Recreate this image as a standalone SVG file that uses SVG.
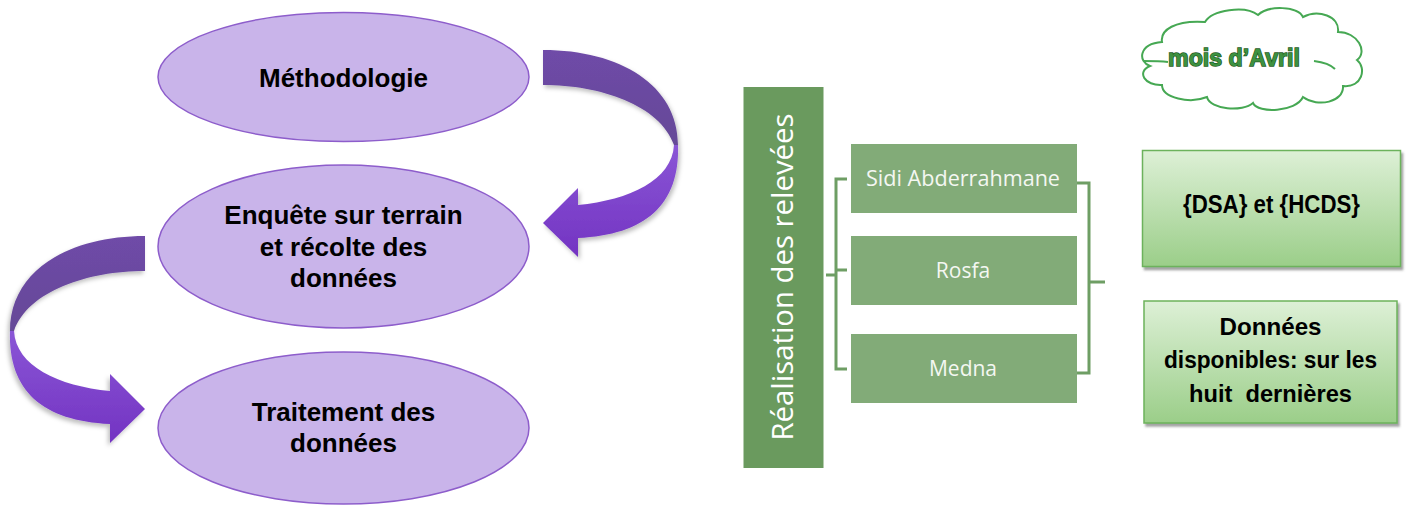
<svg xmlns="http://www.w3.org/2000/svg" xmlns:xlink="http://www.w3.org/1999/xlink" width="1410" height="505" viewBox="0 0 1410 505">
<style>
.ell{fill:#C9B4EA;stroke:#8D5DCB;stroke-width:1.5}
.etxt{font-family:"Liberation Sans",Arial,sans-serif;font-weight:bold;font-size:26px;fill:#000;text-anchor:middle}
.bar{fill:#6A9A5E}
.site{fill:#82AB78}
.stxt{font-family:"Open Sans","Noto Sans",sans-serif;font-weight:400;font-size:21px;fill:#F4F7F2;text-anchor:middle}
.br{fill:none;stroke:#6E9E64;stroke-width:3}
.gbox{fill:url(#gg);stroke:#6CB25B;stroke-width:1.5}
.gtxt{font-family:"Liberation Sans",Arial,sans-serif;font-weight:bold;fill:#000;text-anchor:middle}
</style>
<defs>
<linearGradient id="up" x1="0" y1="0" x2="0" y2="1">
<stop offset="0" stop-color="#6F4BA8"/>
<stop offset="1" stop-color="#654897"/>
</linearGradient>
<linearGradient id="low" x1="0" y1="0" x2="0" y2="1">
<stop offset="0" stop-color="#8A56D6"/>
<stop offset="1" stop-color="#7333C2"/>
</linearGradient>
<linearGradient id="gg" x1="0" y1="0" x2="0" y2="1">
<stop offset="0" stop-color="#DDF0D6"/>
<stop offset="1" stop-color="#9BCE89"/>
</linearGradient>
<filter id="sh" x="-10%" y="-10%" width="130%" height="130%">
<feDropShadow dx="2" dy="3" stdDeviation="2" flood-color="#000" flood-opacity="0.25"/>
</filter>
<filter id="bsh" x="-5%" y="-5%" width="115%" height="120%">
<feDropShadow dx="2" dy="3" stdDeviation="1" flood-color="#555" flood-opacity="0.55"/>
</filter>
<g id="curvArrow">
<path fill="url(#up)" d="M543,50 C620,50 678,85 678,145 L674,145 C660,105 600,85 543,85 Z"/>
<path fill="url(#low)" d="M678,145 C680,205 645,235 578,238 L578,257 L543,223 L578,188 L578,205 C630,200 672,180 674,145 Z"/>
</g>
</defs>

<g id="connectors">
<use xlink:href="#curvArrow" href="#curvArrow" filter="url(#sh)"/>
<use xlink:href="#curvArrow" href="#curvArrow" transform="translate(688,186) scale(-1,1)" filter="url(#sh)"/>
<path class="br" d="M847,179 H836 V369 H847 M826,275 H836 M836,270 H847"/>
<path class="br" d="M1073,183 H1089 V373 H1073 M1089,282 H1105"/>
</g>

<g id="node-methodologie">
<ellipse class="ell" cx="343.5" cy="77" rx="185.5" ry="64.5"/>
<text class="etxt" x="343.5" y="87">Méthodologie</text>
</g>
<g id="node-enquete">
<ellipse class="ell" cx="343.5" cy="246.5" rx="185.5" ry="81.5"/>
<text class="etxt" x="343.5" y="224">Enquête sur terrain</text>
<text class="etxt" x="343.5" y="256">et récolte des</text>
<text class="etxt" x="343.5" y="287">données</text>
</g>
<g id="node-traitement">
<ellipse class="ell" cx="343.5" cy="428" rx="185.5" ry="76"/>
<text class="etxt" x="343.5" y="421">Traitement des</text>
<text class="etxt" x="343.5" y="452">données</text>
</g>

<g id="node-realisation">
<rect class="bar" x="743.5" y="87" width="80" height="381"/>
<text transform="translate(793,277) rotate(-90)" x="0" y="0" textLength="327" lengthAdjust="spacingAndGlyphs" style="font-family:'Open Sans','Noto Sans',sans-serif;font-weight:400;font-size:29px;fill:#fff;text-anchor:middle">Réalisation des relevées</text>
</g>
<g id="node-sidi">
<rect class="site" x="851" y="144" width="226" height="69"/>
<text class="stxt" x="963" y="186" textLength="194" lengthAdjust="spacingAndGlyphs">Sidi Abderrahmane</text>
</g>
<g id="node-rosfa">
<rect class="site" x="851" y="236" width="226" height="69"/>
<text class="stxt" x="963" y="277.5">Rosfa</text>
</g>
<g id="node-medna">
<rect class="site" x="851" y="334" width="226" height="69"/>
<text class="stxt" x="963" y="376">Medna</text>
</g>

<g id="node-avril">
<path fill="#fff" stroke="#46A853" stroke-width="2" d="M1162,42 C1160,30 1175,20 1205,22 C1212,10 1245,5 1258,15 C1268,5 1298,6 1303,17 C1318,9 1340,16 1338,32 C1358,32 1368,52 1357,60 C1367,68 1362,88 1343,86 C1344,102 1318,108 1303,97 C1296,112 1258,114 1253,103 C1243,112 1210,110 1207,97 C1190,104 1162,98 1162,85 C1145,86 1136,72 1150,66 C1138,62 1138,44 1162,42 Z"/>
<path fill="none" stroke="#46A853" stroke-width="2" d="M1143,61 C1150,61 1160,61 1168,62 M1314,61 C1322,62 1330,64 1335,69"/>
<text x="1234" y="66" textLength="132" lengthAdjust="spacingAndGlyphs" style="font-family:'Liberation Sans',Arial,sans-serif;font-weight:bold;font-size:24px;fill:#3D9140;stroke:#1F5A24;stroke-width:1.4;paint-order:stroke;text-anchor:middle">mois d’Avril</text>
</g>

<g id="node-dsa">
<rect class="gbox" x="1142.5" y="150.5" width="258" height="116" filter="url(#bsh)"/>
<text class="gtxt" x="1271.5" y="213" textLength="177" lengthAdjust="spacingAndGlyphs" style="font-size:25px">{DSA} et {HCDS}</text>
</g>
<g id="node-donnees">
<rect class="gbox" x="1144" y="301" width="253" height="122" filter="url(#bsh)"/>
<text class="gtxt" x="1270.5" y="335" textLength="102" lengthAdjust="spacingAndGlyphs" style="font-size:24px">Données</text>
<text class="gtxt" x="1270.5" y="368" textLength="213" lengthAdjust="spacingAndGlyphs" style="font-size:24px">disponibles: sur les</text>
<text class="gtxt" x="1270.5" y="402" textLength="163" lengthAdjust="spacingAndGlyphs" style="font-size:24px;white-space:pre">huit  dernières</text>
</g>
</svg>
